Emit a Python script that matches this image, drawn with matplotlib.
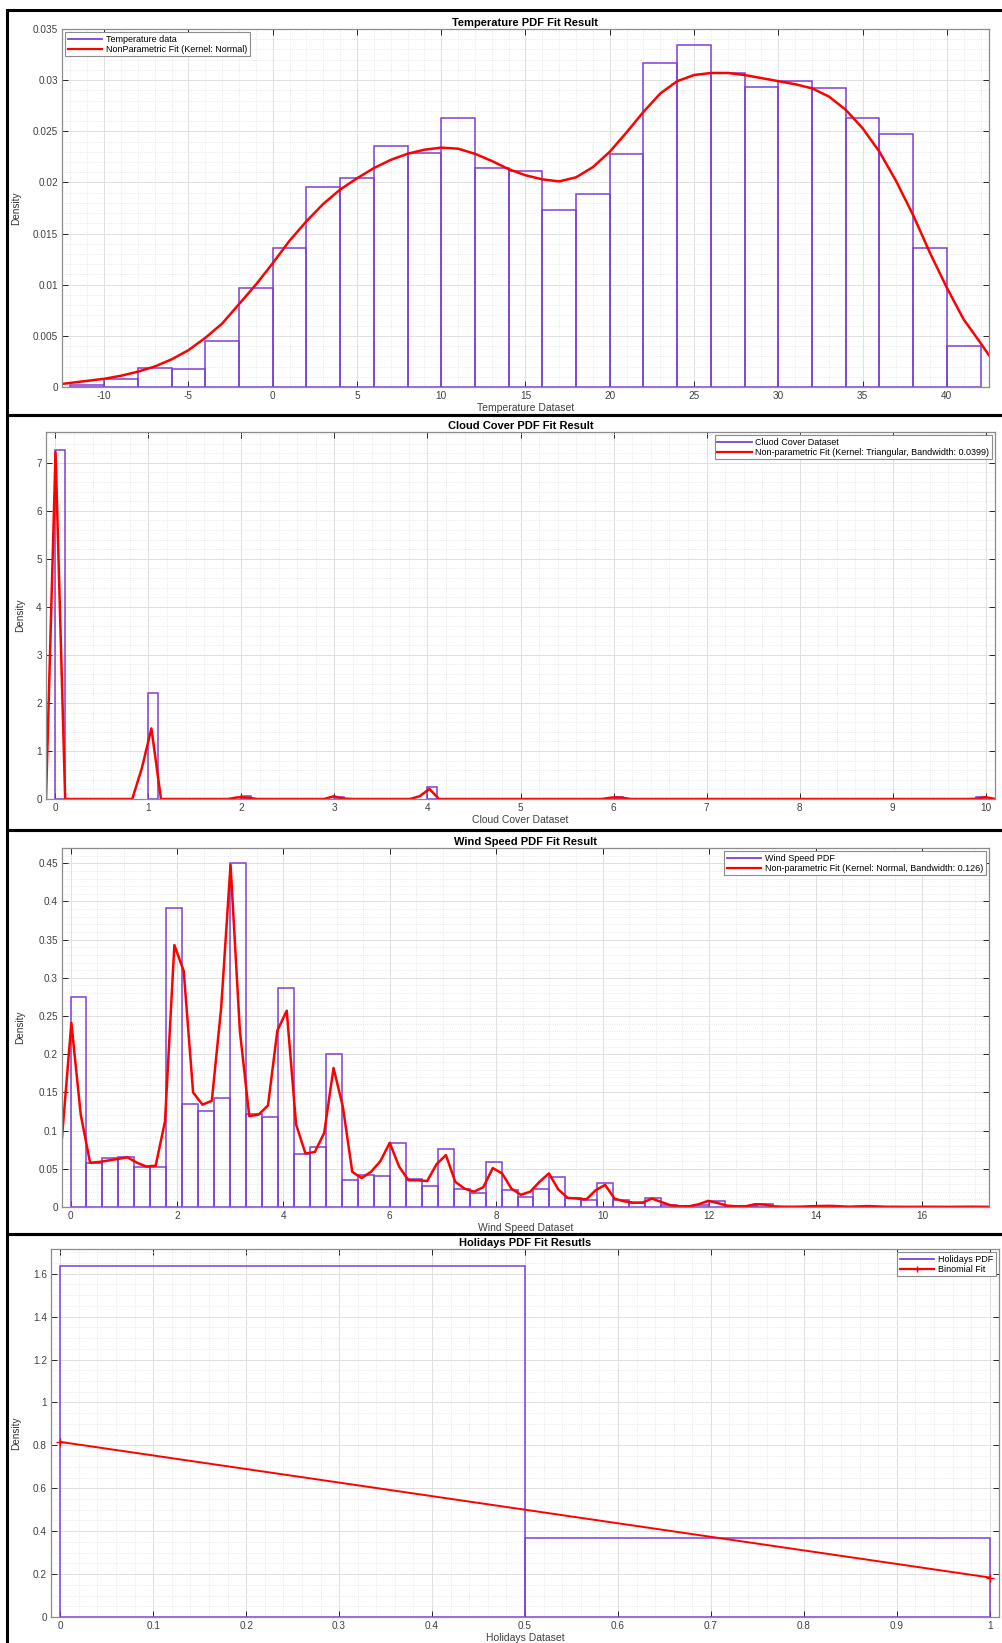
import numpy as np
import matplotlib
matplotlib.use("Agg")
import matplotlib.pyplot as plt
from matplotlib.lines import Line2D
from matplotlib.patches import Rectangle
from matplotlib.ticker import MultipleLocator, FuncFormatter

# ---------------- data ----------------

# temperature histogram (bin width 2, pdf normalised)
temp_bin_left = list(range(-12, 42, 2))
temp_hist = [0.0002, 0.0008, 0.0019, 0.0018, 0.0045, 0.0097, 0.0136, 0.0196,
             0.0204, 0.0236, 0.0229, 0.0263, 0.0214, 0.0211, 0.0173, 0.0189,
             0.0228, 0.0317, 0.0334, 0.0307, 0.0293, 0.0299, 0.0292, 0.0263,
             0.0247, 0.0136, 0.0040]
# kernel density curve for temperature
temp_kde_x = [-12.5, -12, -11, -10, -9, -8, -7, -6, -5, -4, -3, -2, -1, 0, 1, 2, 3,
              4, 5, 6, 7, 8, 9, 10, 11, 12, 13, 14, 15, 16, 17, 18, 19, 20, 21,
              22, 23, 24, 25, 26, 27, 28, 29, 30, 31, 32, 33, 34, 35, 36, 37, 38,
              39, 40, 41, 42, 42.5]
temp_kde_y = [0.0003, 0.0004, 0.0006, 0.0008, 0.0011, 0.0015, 0.0020, 0.0027,
              0.0036, 0.0048, 0.0062, 0.0081, 0.0100, 0.0121, 0.0143, 0.0162,
              0.0179, 0.0193, 0.0204, 0.0214, 0.0222, 0.0228, 0.0232, 0.0234,
              0.0233, 0.0228, 0.0221, 0.0213, 0.0207, 0.0203, 0.0201, 0.0205,
              0.0215, 0.0230, 0.0249, 0.0269, 0.0287, 0.0299, 0.0305, 0.0307,
              0.0307, 0.0305, 0.0302, 0.0299, 0.0296, 0.0292, 0.0284, 0.0271,
              0.0253, 0.0230, 0.0201, 0.0168, 0.0131, 0.0097, 0.0066, 0.0043,
              0.0031]

# cloud cover histogram (bin width 0.1, only non-empty bins)
cloud_bin_left = [0.0, 1.0, 2.0, 3.0, 4.0, 6.0, 9.9]
cloud_hist = [7.27, 2.21, 0.055, 0.05, 0.26, 0.05, 0.04]
# triangular kernel fit
cloud_kde_x = [-0.1, 0.003, 0.106, 0.827, 0.930, 1.033, 1.136, 1.858, 1.961, 2.064,
               2.167, 2.888, 2.991, 3.094, 3.197, 3.815, 3.918, 4.021, 4.124,
               5.876, 5.979, 6.082, 6.185, 9.791, 9.894, 9.997, 10.1]
cloud_kde_y = [0.0, 7.22, 0.0, 0.0, 0.64, 1.47, 0.0, 0.0, 0.035, 0.03,
               0.0, 0.0, 0.055, 0.01, 0.0, 0.0, 0.06, 0.21, 0.0,
               0.0, 0.03, 0.03, 0.0, 0.0, 0.005, 0.04, 0.0]

# wind speed histogram (bin width 0.3 from 0)
wind_bin_width = 0.3
wind_hist = [0.275, 0.058, 0.0636, 0.0649, 0.0526, 0.0526, 0.392, 0.1345, 0.1258,
             0.1425, 0.450, 0.1214, 0.1184, 0.287, 0.0689, 0.0789, 0.2002, 0.036,
             0.0416, 0.0407, 0.0842, 0.0372, 0.0276, 0.0758, 0.0241, 0.0188,
             0.0583, 0.0228, 0.0132, 0.0241, 0.0399, 0.0123, 0.0088, 0.0316,
             0.0088, 0.0053, 0.0118, 0.0031, 0.0018, 0.0031, 0.0079, 0.001,
             0.001, 0.0036]
wind_bin_left = [round(i * wind_bin_width, 1) for i in range(len(wind_hist))]
# normal kernel fit, evaluated on 100 points
wind_kde_x = np.linspace(-0.16, 17.26, 100)
wind_kde_y = [0.091, 0.241, 0.121, 0.058, 0.059, 0.061, 0.063, 0.065, 0.058, 0.053,
              0.054, 0.112, 0.343, 0.309, 0.150, 0.134, 0.139, 0.261, 0.448, 0.230,
              0.119, 0.121, 0.133, 0.231, 0.257, 0.108, 0.070, 0.072, 0.097, 0.182,
              0.131, 0.046, 0.038, 0.046, 0.060, 0.084, 0.053, 0.035, 0.035, 0.034,
              0.056, 0.068, 0.033, 0.024, 0.020, 0.026, 0.051, 0.044, 0.024, 0.016,
              0.020, 0.033, 0.044, 0.023, 0.012, 0.011, 0.010, 0.022, 0.029, 0.011,
              0.0075, 0.0058, 0.0058, 0.011, 0.0066, 0.0022, 0.0009, 0.0009, 0.0036, 0.008,
              0.0053, 0.0018, 0.0009, 0.0009, 0.0036, 0.0031, 0.0009, 0.0004, 0.0003, 0.0005,
              0.0010, 0.0013, 0.0015, 0.0010, 0.0004, 0.0008, 0.0012, 0.0008, 0.0003, 0.0003,
              0.0002, 0.0002, 0.0003, 0.0003, 0.0002, 0.0002, 0.0003, 0.0004, 0.0003, 0.0002]

# holidays (binary) histogram and binomial fit
hol_bin_left = [0.0, 0.5]
hol_hist = [1.634, 0.370]
hol_fit_x = [0, 1]
hol_fit_y = [0.816, 0.184]

# ---------------- styling ----------------
plt.rcParams['font.family'] = ['Liberation Sans', 'DejaVu Sans']
plt.rcParams['axes.unicode_minus'] = False

PURPLE = '#7e3fd6'
RED = '#ff0000'
W, H = 1003, 1643

fig = plt.figure(figsize=(W / 100, H / 100), dpi=100)


def px_axes(left, top, right, bottom):
	return fig.add_axes([left / W, 1 - bottom / H, (right - left) / W, (bottom - top) / H])


def style_axes(ax, xmaj, xmin, ymaj, ymin, title, xlabel, ylab_x):
	ax.xaxis.set_major_locator(MultipleLocator(xmaj))
	ax.xaxis.set_minor_locator(MultipleLocator(xmin))
	ax.yaxis.set_major_locator(MultipleLocator(ymaj))
	ax.yaxis.set_minor_locator(MultipleLocator(ymin))
	fmt = FuncFormatter(lambda v, p: '%g' % round(v, 6))
	ax.xaxis.set_major_formatter(fmt)
	ax.yaxis.set_major_formatter(fmt)
	ax.grid(which='major', color='#e0e0e0', lw=0.7, ls='-')
	ax.grid(which='minor', color='#e2e2e2', lw=0.6, ls=':')
	ax.set_axisbelow(True)
	ax.tick_params(which='major', direction='in', top=True, right=True, length=4,
	               width=0.7, color='#262626', labelcolor='#404040', labelsize=7.2, pad=3)
	ax.tick_params(which='minor', length=0)
	for s in ax.spines.values():
		s.set_color('#8c8c8c')
		s.set_linewidth(0.9)
	ax.set_title(title, fontsize=8, fontweight='bold', pad=2.5)
	ax.set_xlabel(xlabel, fontsize=7.5, color='#404040', labelpad=1)
	ax.set_ylabel('Density', fontsize=7.2, color='#333333',
	              family=['Liberation Sans Narrow', 'Liberation Sans'])
	ax.yaxis.set_label_coords(ylab_x, 0.5)


def legend(ax, labels, loc, fit_marker=None):
	handles = [Line2D([], [], color=PURPLE, lw=1.3),
	           Line2D([], [], color=RED, lw=1.6, marker=fit_marker, markersize=5)]
	leg = ax.legend(handles, labels, loc=loc, fontsize=6.5, frameon=True, fancybox=False,
	                framealpha=1, edgecolor='#8c8c8c', handlelength=3.8, labelspacing=0.1,
	                borderpad=0.3, handletextpad=0.4, borderaxespad=0.35)
	leg.get_frame().set_linewidth(0.8)


def hist_bars(ax, left, heights, width):
	ax.bar(left, heights, width=width, align='edge', fill=False, edgecolor=PURPLE, lw=1.1)


# ---------------- panel 1: temperature ----------------
ax1 = px_axes(62, 29, 989, 387)
hist_bars(ax1, temp_bin_left, temp_hist, 2)
ax1.plot(temp_kde_x, temp_kde_y, color=RED, lw=1.8)
ax1.set_xlim(-12.5, 42.5)
ax1.set_ylim(0, 0.035)
style_axes(ax1, 5, 1, 0.005, 0.001, 'Temperature PDF Fit Result', 'Temperature Dataset', -0.044)
legend(ax1, ['Temperature data', 'NonParametric Fit (Kernel: Normal)'], 'upper left')

# ---------------- panel 2: cloud cover ----------------
ax2 = px_axes(46, 432, 995, 799)
hist_bars(ax2, cloud_bin_left, cloud_hist, 0.1)
ax2.plot(cloud_kde_x, cloud_kde_y, color=RED, lw=1.8)
ax2.set_xlim(-0.1, 10.1)
ax2.set_ylim(0, 7.64)
style_axes(ax2, 1, 0.2, 1, 0.2, 'Cloud Cover PDF Fit Result', 'Cloud Cover Dataset', -0.022)
legend(ax2, ['Cluod Cover Dataset',
             'Non-parametric Fit (Kernel: Triangular, Bandwidth: 0.0399)'], 'upper right')

# ---------------- panel 3: wind speed ----------------
ax3 = px_axes(62, 848, 989, 1207)
hist_bars(ax3, wind_bin_left, wind_hist, wind_bin_width)
ax3.plot(wind_kde_x, wind_kde_y, color=RED, lw=1.8)
ax3.set_xlim(-0.16, 17.26)
ax3.set_ylim(0, 0.47)
style_axes(ax3, 2, 0.5, 0.05, 0.01, 'Wind Speed PDF Fit Result', 'Wind Speed Dataset', -0.04)
legend(ax3, ['Wind Speed PDF', 'Non-parametric Fit (Kernel: Normal, Bandwidth: 0.126)'],
       'upper right')

# ---------------- panel 4: holidays ----------------
ax4 = px_axes(51, 1249, 999, 1617)
hist_bars(ax4, hol_bin_left, hol_hist, 0.5)
ax4.plot(hol_fit_x, hol_fit_y, color=RED, lw=1.4, marker='+', markersize=6)
ax4.set_xlim(-0.01, 1.01)
ax4.set_ylim(0, 1.715)
style_axes(ax4, 0.1, 0.02, 0.2, 0.05, 'Holidays PDF Fit Resutls', 'Holidays Dataset', -0.032)
legend(ax4, ['Holidays PDF', 'Binomial Fit'], 'upper right', fit_marker='+')

# black frames around each panel
for top, bottom in [(10, 415), (415, 830), (830, 1234), (1234, 1700)]:
	fig.add_artist(Rectangle((7 / W, 1 - bottom / H), 1.2, (bottom - top) / H,
	                         transform=fig.transFigure, fill=False, ec='black', lw=2.2))

fig.savefig('out.png', dpi=100)
